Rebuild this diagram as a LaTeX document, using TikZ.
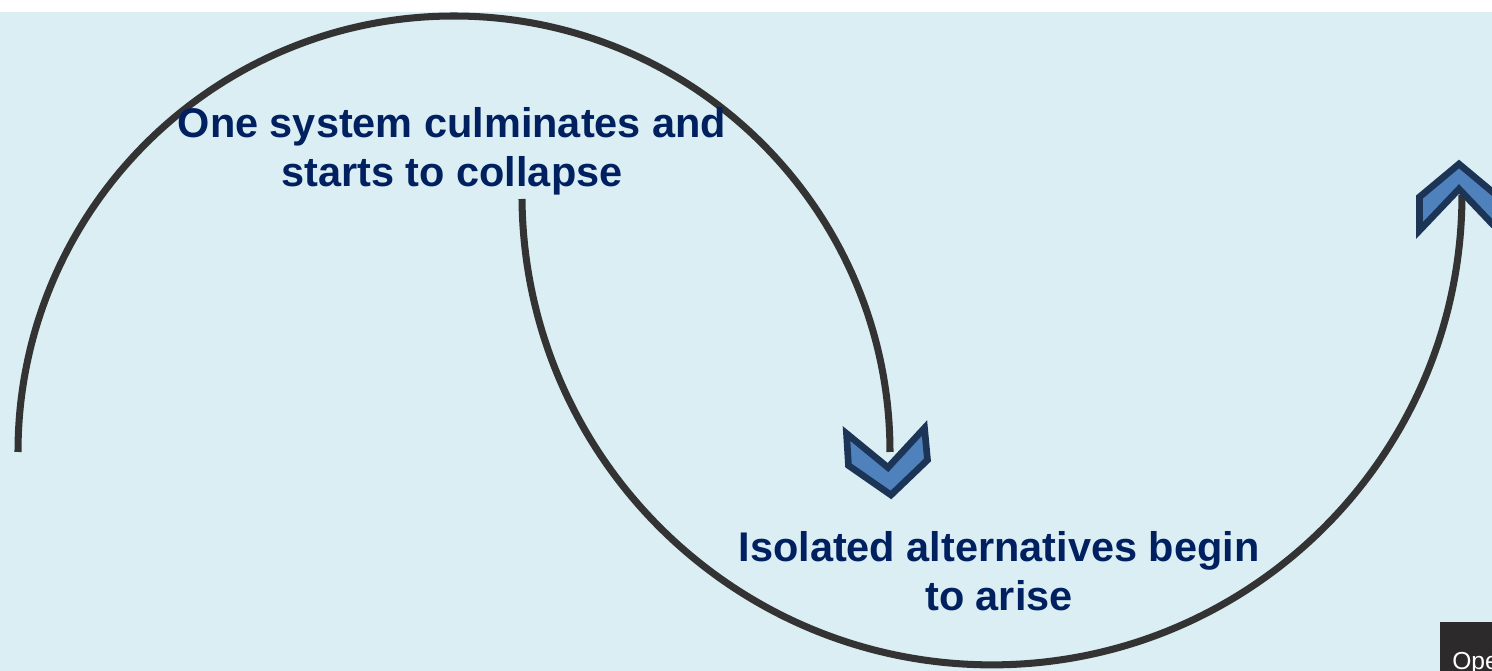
\documentclass[tikz,border=0pt]{standalone}
\usepackage{fontspec}
\setmainfont{Liberation Sans}
\usepackage{xcolor}
\definecolor{bg}{HTML}{DAEEF3}
\definecolor{navy}{HTML}{002060}
\definecolor{arcgray}{HTML}{333333}
\definecolor{chevfill}{HTML}{4F81BD}
\definecolor{chevline}{HTML}{1C3557}
\definecolor{btn}{HTML}{2D2A2B}

\begin{document}
\begin{tikzpicture}[x=0.02cm,y=-0.02cm,
        lbl/.style={text=navy,font=\bfseries\fontsize{23.6}{27.8}\selectfont,align=center,inner sep=0pt},
        curve/.style={draw=arcgray,line width=4pt},
        chev/.style={fill=chevfill,draw=chevline,line width=3.8pt,line join=miter}]
        \useasboundingbox (0,0) rectangle (1492,671);
        \clip (0,0) rectangle (1492,671);
        \fill[white] (0,0) rectangle (1492,12);
        \fill[bg] (0,12) rectangle (1492,671);
        \coordinate(s1) at (18,452);
        \coordinate(s2) at (522,199);
        \draw[curve] (s1) arc[start angle=180,end angle=360,radius=436];
        \draw[curve] (s2) arc[start angle=179.5,end angle=0,radius=470];
        \draw[chev] (846.5,433.5) -- (848.5,465.5) -- (891,495) -- (927.5,460) -- (924.5,428) -- (888,467.5) -- cycle;
        \draw[chev] (1459,164) -- (1419.5,197) -- (1419.5,230.5) -- (1459,189) -- (1498.5,230.5) -- (1498.5,197) -- cycle;
        \node[lbl](top) at (452,151) {One system culminates and\\starts to collapse};
        \node[lbl](bottom) at (999,571) {Isolated alternatives begin\\to arise};
        \fill[btn] (1440,622) rectangle (1492,671);
        \node[anchor=base west,inner sep=0pt,text=white,font=\fontsize{14}{16}\selectfont](open) at (1452,670) {Open};
        \end{tikzpicture}
\end{document}
